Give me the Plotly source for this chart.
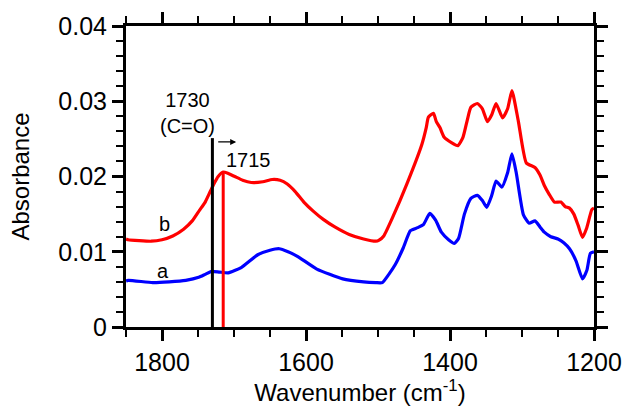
import plotly.graph_objects as go

# Curve a (blue)
wn_a = [1850, 1847, 1813, 1790, 1767, 1749, 1740, 1731, 1720, 1708, 1690, 1667, 1650, 1637,
        1625, 1612, 1585, 1549, 1520, 1503, 1494, 1485, 1476, 1465, 1455, 1445, 1437, 1428,
        1420, 1412, 1402, 1394, 1388, 1380, 1371, 1362, 1355, 1349, 1342, 1336, 1328, 1320,
        1314, 1308, 1298, 1290, 1282, 1275, 1269, 1260, 1250, 1242, 1234, 1225, 1216, 1210,
        1205, 1200]
ab_a = [0.0061, 0.0062, 0.0059, 0.0060, 0.0062, 0.0066, 0.0070, 0.0074, 0.0073, 0.0072,
        0.0079, 0.0096, 0.0102, 0.0104, 0.0100, 0.0094, 0.0077, 0.0064, 0.0060, 0.0059,
        0.0059, 0.0070, 0.0083, 0.0105, 0.0128, 0.0132, 0.0136, 0.0151, 0.0142, 0.0126,
        0.0116, 0.0111, 0.0118, 0.0150, 0.0171, 0.0175, 0.0168, 0.0159, 0.0175, 0.0194,
        0.0186, 0.0205, 0.0230, 0.0205, 0.0149, 0.0138, 0.0141, 0.0133, 0.0126, 0.0120,
        0.0117, 0.0112, 0.0104, 0.0088, 0.0064, 0.0075, 0.0098, 0.0100]

# Curve b (red)
wn_b = [1850, 1847, 1815, 1800, 1785, 1770, 1758, 1748, 1740, 1733, 1728, 1722, 1715, 1708,
        1699, 1688, 1676, 1660, 1647, 1636, 1626, 1615, 1603, 1590, 1576, 1560, 1540, 1520,
        1503, 1499, 1492, 1480, 1460, 1439, 1433, 1430, 1423, 1419, 1414, 1408, 1398, 1389,
        1382, 1376, 1371, 1362, 1355, 1348, 1342, 1336, 1327, 1320, 1314, 1305, 1294, 1282,
        1275, 1269, 1262, 1255, 1246, 1240, 1234, 1228, 1222, 1216, 1210, 1203, 1200]
ab_b = [0.0117, 0.0116, 0.0114, 0.0116, 0.0121, 0.0130, 0.0141, 0.0155, 0.0166, 0.0180,
        0.0190, 0.0200, 0.0206, 0.0204, 0.0200, 0.0195, 0.0192, 0.0193, 0.0196, 0.0195,
        0.0190, 0.0180, 0.0166, 0.0154, 0.0143, 0.0133, 0.0123, 0.0117, 0.0114, 0.0115,
        0.0121, 0.0145, 0.0190, 0.0243, 0.0265, 0.0279, 0.0284, 0.0273, 0.0265, 0.0252,
        0.0245, 0.0241, 0.0252, 0.0275, 0.0292, 0.0297, 0.0290, 0.0273, 0.0282, 0.0297,
        0.0278, 0.0290, 0.0314, 0.0273, 0.0218, 0.0212, 0.0202, 0.0188, 0.0176, 0.0166,
        0.0166, 0.0160, 0.0158, 0.0150, 0.0135, 0.0119, 0.0132, 0.0156, 0.0158]

# Marker lines
line_pos = [1730, 1715]
line_top = [0.0251, 0.0206]
line_col = ["black", "red"]

# Shift arrow (tail -> head, wavenumber) and its height
arrow_x = [1724, 1697]
arrow_y = 0.0246

FONT = "Liberation Sans, Arial, sans-serif"

fig = go.Figure()
fig.add_trace(go.Scatter(x=wn_a, y=ab_a, mode="lines",
                         line=dict(color="#0000ff", width=3.2, shape="spline", smoothing=0.5),
                         showlegend=False))
fig.add_trace(go.Scatter(x=wn_b, y=ab_b, mode="lines",
                         line=dict(color="#ff0000", width=3.2, shape="spline", smoothing=0.5),
                         showlegend=False))
for p, t, c in zip(line_pos, line_top, line_col):
    fig.add_trace(go.Scatter(x=[p, p], y=[0, t], mode="lines",
                             line=dict(color=c, width=3), showlegend=False))

fig.add_annotation(x=arrow_x[1], y=arrow_y, ax=arrow_x[0], ay=arrow_y,
                   xref="x", yref="y", axref="x", ayref="y", text="",
                   showarrow=True, arrowhead=2, arrowsize=1.0, arrowwidth=1.2,
                   arrowcolor="black")

ann = [
    dict(x=1764, y=0.0285, text="1730<br>(C=O)", size=20),
    dict(x=1680, y=0.0222, text="1715", size=20),
    dict(x=1797, y=0.0137, text="b", size=20),
    dict(x=1799, y=0.0075, text="a", size=20),
]
for a in ann:
    fig.add_annotation(x=a["x"], y=a["y"], text=a["text"], showarrow=False,
                       font=dict(family=FONT, size=a["size"], color="black"),
                       xanchor="center", yanchor="middle")

axis_common = dict(showline=True, linecolor="black", linewidth=3, mirror="ticks",
                   ticks="outside", ticklen=11, tickwidth=2.5, tickcolor="black",
                   showgrid=False, zeroline=False)

fig.update_xaxes(range=[1850, 1200], autorange=False, tick0=1200, dtick=200,
                 minor=dict(dtick=50, ticklen=7, tickwidth=2, tickcolor="black", ticks="outside",
                            showgrid=False),
                 tickfont=dict(family=FONT, size=25, color="black"),
                 title=dict(text="Wavenumber (cm<sup>-1</sup>)",
                            font=dict(family=FONT, size=24, color="black"), standoff=10),
                 **axis_common)
fig.update_yaxes(range=[0, 0.04], autorange=False, tick0=0, dtick=0.01,
                 minor=dict(dtick=0.002, ticklen=7, tickwidth=2, tickcolor="black", ticks="outside",
                            showgrid=False),
                 tickfont=dict(family=FONT, size=25, color="black"),
                 title=dict(text="Absorbance", font=dict(family=FONT, size=24, color="black"),
                            standoff=22),
                 **axis_common)

fig.update_layout(width=634, height=415, margin=dict(l=126, r=32, t=21, b=82),
                  plot_bgcolor="white", paper_bgcolor="white")

fig.write_html("out.html")
